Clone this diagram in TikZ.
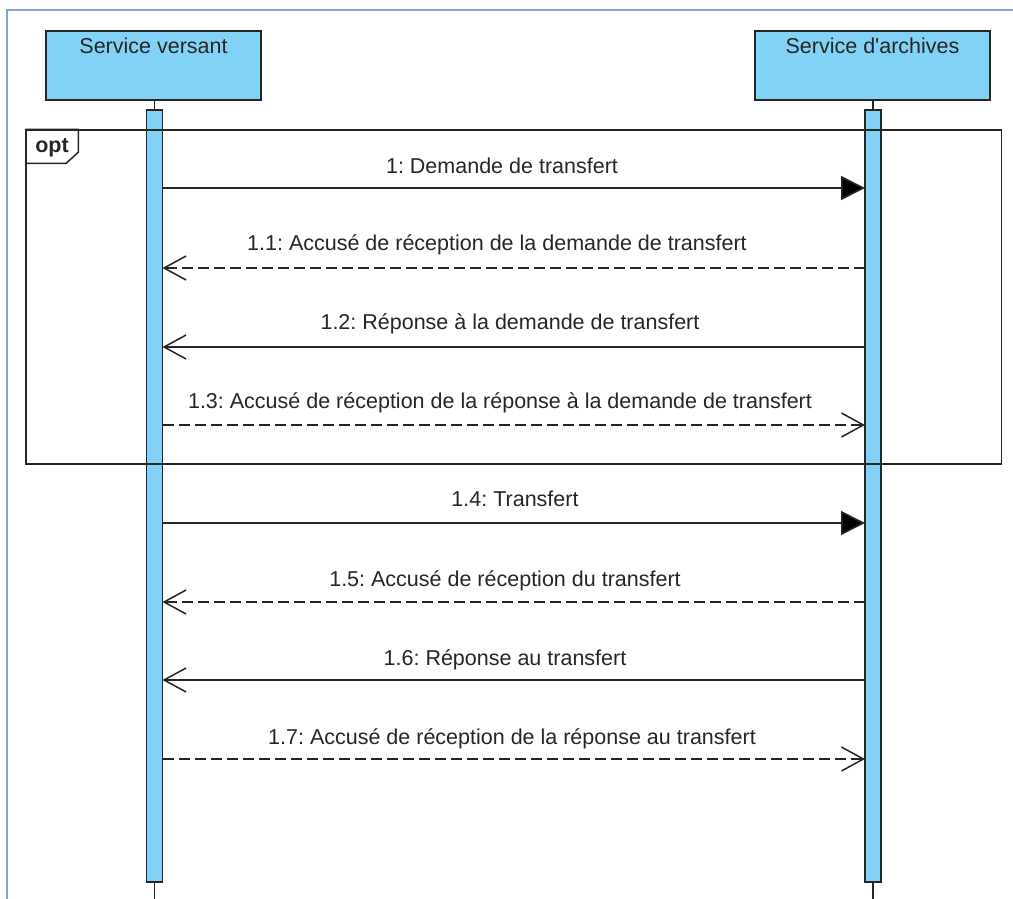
\documentclass[tikz,border=0pt]{standalone}
\usepackage{fontspec}
\setmainfont{Liberation Sans}
\usetikzlibrary{arrows.meta}
\definecolor{lifeblue}{HTML}{82D2F6}
\definecolor{frameblue}{HTML}{7FA6DA}
\definecolor{txt}{HTML}{262626}
\frenchspacing
\begin{document}
\begin{tikzpicture}[x=1pt,y=-1pt,
  every node/.style={font=\fontsize{21.5}{24}\selectfont\frenchspacing,text=txt},
  headbox/.style={draw=black!85,line width=1.6pt,fill=lifeblue,minimum height=69pt,inner sep=0pt},
  actbar/.style={draw=black!85,line width=1.4pt,fill=lifeblue,minimum width=16pt,minimum height=772pt,inner sep=0pt},
  stem/.style={draw=black!85,line width=1.4pt},
  msg/.style={draw=black!85,line width=1.5pt},
  reply/.style={msg,dash pattern=on 11pt off 5pt},
  synctip/.style={-{Triangle[length=24pt,width=24pt,fill=black]}},
  opentip/.style={-{Straight Barb[length=22pt,width=24pt,line width=1.5pt]}},
  lbl/.style={anchor=base,inner sep=0pt}]
\useasboundingbox (0,0) rectangle (1013,899);
\fill[white] (0,0) rectangle (1013,899);
% outer border (top and left)
\draw[frameblue,line width=2pt] (7,899) -- (7,10) -- (1013,10);
% lifeline heads
\node[headbox,minimum width=215pt] (sv) at (153.5,65.5) {};
\node[headbox,minimum width=235pt] (sa) at (872.5,65.5) {};
\node[lbl] (svt) at (153.5,54) {Service versant};
\node[lbl] (sat) at (872.5,54) {Service d\textquotesingle archives};
% activation bars
\node[actbar] (bl) at (154.5,496) {};
\node[actbar] (br) at (873,496) {};
\coordinate (blend) at (154.5,899);
\coordinate (brend) at (873,899);
\draw[stem] (sv.south -| bl.north) -- (bl.north);
\draw[stem] (sa.south -| br.north) -- (br.north);
\draw[stem] (bl.south) -- (blend);
\draw[stem] (br.south) -- (brend);
% opt frame
\node[draw=black!85,line width=1.5pt,minimum width=975.5pt,minimum height=334pt,inner sep=0pt] (opt) at (513.75,297) {};
\draw[black!85,line width=1.5pt] (opt.north west) -- ++(53,0) -- ++(0,23) -- ++(-12,11) -- ++(-41,0);
\node[lbl,font=\fontsize{21.5}{24}\bfseries] (optt) at (52,153) {opt};
% message coordinates
\foreach \n/\y in {m1/188,m2/268,m3/347,m4/425,m5/523,m6/602,m7/680,m8/759}{
  \coordinate (\n L) at (162.5,\y);
  \coordinate (\n R) at (865,\y);
}
% messages
\draw[msg,synctip] (m1L) -- (m1R);
\draw[reply,opentip] (m2R) -- (m2L);
\draw[msg,opentip] (m3R) -- (m3L);
\draw[reply,opentip] (m4L) -- (m4R);
\draw[msg,synctip] (m5L) -- (m5R);
\draw[reply,opentip] (m6R) -- (m6L);
\draw[msg,opentip] (m7R) -- (m7L);
\draw[reply,opentip] (m8L) -- (m8R);
% labels
\node[lbl] (t1) at (502,173) {1: Demande de transfert};
\node[lbl] (t2) at (497,250) {1.1: Accusé de réception de la demande de transfert};
\node[lbl] (t3) at (510,329) {1.2: Réponse à la demande de transfert};
\node[lbl] (t4) at (500,408) {1.3: Accusé de réception de la réponse à la demande de transfert};
\node[lbl] (t5) at (515,506) {1.4: Transfert};
\node[lbl] (t6) at (505,586) {1.5: Accusé de réception du transfert};
\node[lbl] (t7) at (505,665) {1.6: Réponse au transfert};
\node[lbl] (t8) at (512,744) {1.7: Accusé de réception de la réponse au transfert};
\end{tikzpicture}
\end{document}
